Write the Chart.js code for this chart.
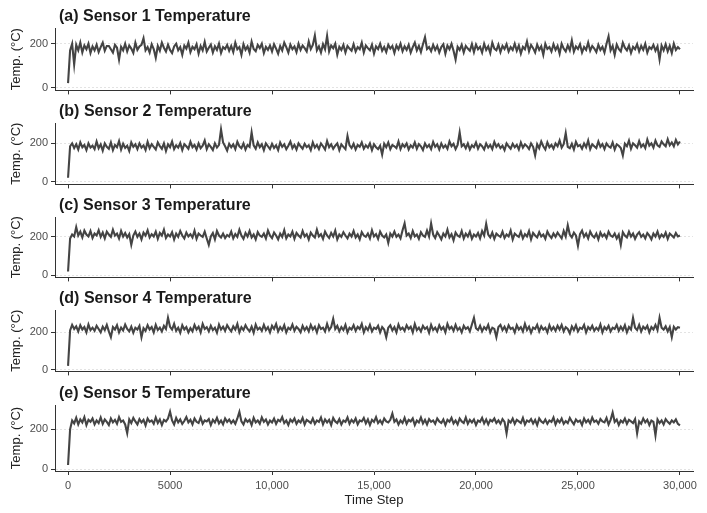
<!DOCTYPE html>
<html>
<head>
<meta charset="utf-8">
<script src="https://cdn.jsdelivr.net/npm/chart.js@4.4.1/dist/chart.umd.min.js"></script>
<style>
  html, body { margin: 0; padding: 0; background: #fff; }
  #stage { position: relative; width: 707px; height: 513px; overflow: hidden; }
</style>
</head>
<body>
<div id="stage"></div>
<script>
// Panel titles
const panelTitles = [
  '(a) Sensor 1 Temperature',
  '(b) Sensor 2 Temperature',
  '(c) Sensor 3 Temperature',
  '(d) Sensor 4 Temperature',
  '(e) Sensor 5 Temperature'
];

// Sampling grid: one reading every 100 time steps, 0 .. 30,000
const SAMPLE_STEP = 100;

// Readings (°C), 20 per row
const sensor1 = [
  20, 170, 200, 105, 195, 170, 205, 160, 192, 175, 200, 158, 188, 170, 196, 162, 185, 205, 168, 190,
  190, 175, 160, 195, 182, 128, 186, 170, 200, 165, 192, 178, 158, 205, 172, 188, 195, 225, 170, 185,
  160, 198, 176, 136, 190, 168, 205, 182, 165, 196, 172, 158, 188, 200, 170, 185, 150, 192, 178, 205,
  162, 186, 175, 198, 155, 190, 170, 208, 165, 182, 196, 160, 188, 172, 200, 158, 185, 176, 195, 168,
  190, 162, 205, 175, 185, 150, 198, 172, 188, 160, 210, 176, 166, 195, 180, 200, 158, 186, 172, 192,
  165, 198, 178, 155, 190, 170, 205, 185, 160, 196, 175, 188, 162, 200, 172, 192, 180, 165, 210, 176,
  195, 238, 170, 188, 160, 198, 175, 236, 165, 192, 180, 200, 150, 186, 172, 195, 160, 190, 178, 168,
  198, 165, 185, 175, 205, 160, 192, 180, 170, 196, 155, 188, 176, 200, 168, 185, 162, 195, 178, 190,
  158, 192, 175, 200, 166, 188, 172, 195, 160, 185, 205, 170, 190, 162, 198, 230, 176, 185, 166, 195,
  172, 190, 160, 185, 198, 155, 192, 175, 200, 168, 128, 186, 172, 195, 160, 190, 178, 168, 198, 162,
  196, 175, 186, 160, 200, 172, 188, 158, 205, 178, 170, 196, 162, 190, 176, 198, 165, 185, 172, 200,
  168, 192, 155, 186, 175, 210, 166, 195, 180, 160, 196, 172, 188, 150, 200, 176, 185, 165, 198, 172,
  190, 155, 200, 178, 165, 192, 170, 215, 164, 188, 176, 198, 160, 185, 172, 205, 168, 190, 178, 162,
  195, 172, 186, 160, 200, 234, 170, 190, 150, 196, 176, 165, 205, 182, 170, 192, 158, 186, 175, 198,
  165, 190, 172, 200, 160, 185, 176, 195, 168, 188, 128, 192, 170, 198, 165, 190, 158, 200, 172, 185,
  175
];
const sensor2 = [
  20, 185, 200, 175, 195, 168, 205, 180, 192, 165, 200, 178, 188, 170, 210, 175, 195, 162, 200, 182,
  172, 205, 165, 192, 180, 212, 168, 198, 176, 188, 160, 205, 182, 195, 170, 200, 178, 190, 165, 208,
  175, 196, 182, 168, 205, 186, 172, 200, 160, 195, 180, 210, 170, 190, 178, 202, 165, 196, 185, 172,
  208, 180, 192, 168, 200, 175, 188, 215, 170, 195, 182, 165, 200, 178, 192, 273, 205, 185, 162, 198,
  180, 195, 170, 208, 185, 175, 200, 168, 192, 182, 258, 190, 172, 205, 180, 195, 165, 200, 185, 170,
  198, 176, 190, 165, 205, 182, 195, 170, 188, 210, 175, 192, 168, 200, 185, 172, 198, 180, 190, 165,
  205, 178, 192, 170, 200, 185, 168, 212, 180, 195, 172, 188, 200, 165, 195, 182, 170, 239, 190, 176,
  198, 168, 192, 182, 205, 172, 190, 178, 200, 165, 195, 180, 170, 188, 141, 198, 180, 205, 170, 192,
  185, 175, 210, 170, 195, 182, 200, 168, 190, 178, 205, 172, 196, 185, 165, 200, 180, 192, 170, 208,
  182, 195, 168, 200, 178, 190, 172, 210, 185, 198, 170, 192, 258, 185, 196, 175, 200, 168, 190, 180,
  205, 172, 195, 185, 168, 200, 178, 192, 170, 208, 182, 196, 175, 188, 165, 200, 185, 172, 198, 180,
  192, 168, 205, 178, 195, 185, 170, 200, 182, 137, 196, 175, 210, 185, 168, 205, 180, 192, 172, 200,
  185, 215, 178, 196, 254, 182, 175, 198, 168, 208, 185, 192, 172, 200, 180, 215, 170, 195, 185, 175,
  210, 182, 196, 170, 200, 185, 178, 205, 168, 195, 188, 176, 137, 198, 185, 215, 172, 200, 190, 178,
  212, 182, 195, 175, 220, 188, 200, 178, 215, 190, 182, 210, 195, 185, 222, 190, 205, 185, 218, 195,
  210
];
const sensor3 = [
  20, 190, 210, 200, 248, 205, 225, 195, 230, 210, 200, 228, 192, 215, 205, 232, 198, 220, 190, 225,
  210, 198, 235, 205, 215, 190, 228, 200, 218, 195, 212, 157, 205, 225, 198, 215, 185, 220, 205, 232,
  195, 212, 200, 225, 188, 218, 205, 235, 192, 210, 200, 222, 185, 215, 198, 228, 205, 190, 220, 200,
  212, 195, 230, 188, 215, 205, 198, 225, 190, 157, 200, 218, 185, 228, 205, 195, 215, 192, 208, 200,
  225, 190, 212, 198, 235, 205, 188, 218, 200, 228, 195, 210, 185, 222, 205, 198, 215, 190, 230, 205,
  192, 220, 205, 185, 215, 198, 232, 190, 210, 200, 225, 188, 218, 205, 195, 228, 200, 212, 185, 220,
  205, 195, 235, 200, 212, 188, 225, 205, 192, 218, 200, 230, 185, 210, 198, 222, 205, 190, 215, 200,
  228, 195, 210, 185, 222, 205, 198, 215, 190, 232, 200, 212, 188, 225, 205, 195, 210, 167, 215, 200,
  225, 198, 210, 190, 232, 267, 205, 215, 192, 228, 200, 210, 188, 222, 205, 198, 230, 200, 267, 210,
  192, 222, 205, 185, 215, 200, 235, 195, 212, 180, 220, 205, 198, 228, 190, 215, 200, 225, 188, 210,
  200, 218, 190, 228, 205, 265, 210, 195, 220, 188, 215, 205, 198, 225, 192, 210, 200, 230, 185, 215,
  205, 198, 225, 190, 212, 200, 228, 185, 218, 205, 195, 222, 200, 210, 188, 225, 205, 192, 215, 198,
  220, 205, 190, 228, 200, 257, 210, 195, 220, 205, 152, 212, 230, 198, 215, 190, 225, 205, 195, 215,
  185, 220, 200, 212, 192, 225, 205, 198, 215, 190, 210, 157, 222, 205, 195, 225, 200, 215, 188, 210,
  222, 198, 210, 190, 218, 205, 185, 215, 200, 225, 192, 210, 198, 220, 188, 215, 205, 195, 218, 200,
  205
];
const sensor4 = [
  20, 210, 240, 218, 232, 205, 238, 215, 228, 200, 242, 212, 225, 208, 235, 218, 200, 230, 212, 240,
  205, 174, 228, 215, 238, 200, 225, 210, 242, 218, 205, 230, 198, 225, 215, 235, 174, 222, 208, 238,
  215, 228, 200, 240, 212, 225, 205, 235, 218, 278, 230, 215, 245, 208, 225, 198, 238, 215, 228, 200,
  222, 205, 240, 215, 230, 200, 245, 218, 228, 205, 235, 212, 225, 198, 242, 215, 230, 208, 238, 220,
  205, 232, 215, 245, 200, 228, 212, 238, 218, 205, 230, 198, 242, 215, 225, 208, 240, 212, 228, 200,
  235, 218, 245, 205, 228, 212, 238, 200, 225, 215, 242, 208, 230, 218, 200, 235, 212, 228, 205, 240,
  215, 230, 200, 238, 218, 225, 205, 245, 212, 228, 273, 218, 235, 205, 228, 212, 240, 200, 225, 215,
  238, 208, 230, 218, 245, 200, 228, 212, 240, 205, 225, 218, 235, 200, 228, 215, 174, 225, 238, 210,
  228, 200, 242, 215, 225, 208, 238, 218, 230, 200, 245, 212, 225, 205, 235, 218, 228, 198, 240, 212,
  225, 205, 238, 215, 228, 200, 245, 218, 230, 208, 240, 212, 225, 200, 235, 218, 228, 205, 242, 278,
  222, 212, 235, 205, 228, 215, 240, 200, 225, 218, 174, 228, 240, 212, 230, 205, 238, 218, 225, 200,
  238, 215, 228, 205, 245, 212, 230, 198, 225, 218, 240, 205, 232, 215, 225, 200, 238, 212, 228, 208,
  235, 215, 240, 205, 228, 218, 195, 232, 212, 238, 205, 225, 218, 240, 200, 228, 215, 235, 208, 225,
  212, 242, 200, 228, 215, 235, 205, 225, 218, 240, 208, 230, 212, 238, 200, 228, 215, 278, 225, 212,
  240, 205, 230, 218, 235, 200, 228, 215, 240, 212, 278, 225, 215, 232, 205, 228, 174, 230, 215, 228,
  225
];
const sensor5 = [
  20, 200, 245, 230, 258, 225, 250, 235, 262, 222, 248, 238, 255, 225, 245, 232, 260, 228, 250, 238,
  222, 255, 235, 248, 228, 262, 238, 245, 225, 181, 250, 232, 258, 240, 225, 252, 235, 248, 220, 255,
  238, 245, 228, 260, 232, 250, 222, 248, 240, 255, 290, 245, 225, 258, 235, 250, 228, 242, 262, 235,
  248, 225, 255, 238, 232, 260, 228, 245, 240, 252, 222, 248, 235, 258, 230, 245, 225, 255, 238, 250,
  232, 245, 228, 255, 288, 240, 225, 252, 238, 248, 222, 258, 235, 245, 228, 260, 238, 250, 225, 245,
  235, 255, 228, 248, 240, 262, 232, 245, 222, 250, 238, 255, 228, 245, 235, 258, 225, 248, 240, 232,
  255, 228, 245, 238, 260, 225, 250, 235, 248, 222, 258, 240, 232, 252, 225, 245, 238, 260, 228, 248,
  235, 255, 225, 245, 240, 258, 230, 250, 222, 248, 238, 262, 232, 245, 228, 255, 240, 235, 248, 280,
  238, 250, 225, 245, 232, 258, 228, 248, 240, 255, 222, 245, 235, 260, 230, 248, 225, 252, 238, 245,
  228, 255, 240, 232, 250, 222, 248, 238, 258, 230, 245, 225, 255, 240, 232, 260, 228, 248, 235, 250,
  222, 245, 238, 258, 230, 250, 225, 248, 240, 255, 232, 245, 228, 252, 238, 180, 245, 235, 255, 228,
  248, 240, 232, 258, 225, 245, 238, 252, 230, 248, 222, 255, 240, 232, 250, 228, 245, 238, 260, 225,
  248, 235, 255, 228, 242, 232, 258, 240, 225, 250, 238, 245, 222, 255, 235, 248, 230, 260, 238, 245,
  228, 252, 240, 235, 258, 225, 248, 285, 238, 250, 222, 245, 235, 255, 228, 248, 240, 232, 252, 180,
  240, 228, 255, 235, 248, 222, 245, 238, 170, 250, 232, 245, 225, 252, 238, 228, 245, 235, 250, 228,
  220
];
const sensors = [sensor1, sensor2, sensor3, sensor4, sensor5];

// Axis ticks and ranges
const xTickValues = [0, 5000, 10000, 15000, 20000, 25000, 30000];
const xTickLabels = ['0', '5000', '10,000', '15,000', '20,000', '25,000', '30,000'];
const yTickValues = [0, 200];
const yMins = [-13, -15, -10, -10, -10];
const yMaxs = [272, 307, 300, 320, 323];

// Layout (pixels)
const W = 707, H = 513;
const PLOT_LEFT = 55, PLOT_RIGHT = 693;
const TITLE_SPACE = 28;
const plotTops = [28, 123, 217, 310, 405];
const plotBottoms = [95, 189, 282, 376, 471];

const FONT = '"Liberation Sans", Arial, Helvetica, sans-serif';
const AXIS_COLOR = '#333333';
const TEXT_COLOR = '#4d4d4d';

// Draws the bold panel heading just above the plot area
const panelTitle = {
  id: 'panelTitle',
  afterDraw(chart, args, opts) {
    const { ctx, chartArea } = chart;
    ctx.save();
    ctx.font = 'bold 16px ' + FONT;
    ctx.fillStyle = '#1a1a1a';
    ctx.textBaseline = 'middle';
    ctx.textAlign = 'left';
    ctx.fillText(opts.text, chartArea.left + 4, chartArea.top - 11);
    ctx.restore();
  }
};

const timeSteps = sensor1.map((_, i) => i * SAMPLE_STEP);

sensors.forEach((values, i) => {
  const isLast = i === sensors.length - 1;
  const top = plotTops[i] - TITLE_SPACE;
  const axisHeight = isLast ? H - plotBottoms[i] : 5;
  const height = plotBottoms[i] - top + axisHeight;

  const canvas = document.createElement('canvas');
  canvas.width = W;
  canvas.height = height;
  canvas.style.cssText = `position:absolute;left:0;top:${top}px;width:${W}px;height:${height}px;`;
  document.getElementById('stage').appendChild(canvas);

  new Chart(canvas, {
    type: 'line',
    data: {
      datasets: [{
        data: values.map((v, k) => ({ x: timeSteps[k], y: v })),
        borderColor: '#444444',
        borderWidth: 2.1,
        pointRadius: 0,
        tension: 0,
        fill: false
      }]
    },
    options: {
      responsive: false,
      animation: false,
      events: [],
      layout: { padding: { top: TITLE_SPACE, right: W - PLOT_RIGHT, bottom: 0, left: 0 } },
      plugins: {
        legend: { display: false },
        tooltip: { enabled: false },
        panelTitle: { text: panelTitles[i] }
      },
      scales: {
        x: {
          type: 'linear',
          min: -640,
          max: 30640,
          afterBuildTicks: s => { s.ticks = xTickValues.map(v => ({ value: v })); },
          afterFit: s => { s.height = axisHeight; },
          ticks: {
            display: isLast,
            autoSkip: false,
            maxRotation: 0,
            padding: 4,
            color: TEXT_COLOR,
            font: { family: FONT, size: 11 },
            callback: (v, idx) => xTickLabels[idx]
          },
          grid: {
            drawOnChartArea: false,
            drawTicks: true,
            tickLength: 4,
            tickColor: AXIS_COLOR,
            tickWidth: 1
          },
          border: { display: true, color: AXIS_COLOR, width: 1 },
          title: {
            display: isLast,
            text: 'Time Step',
            color: '#222222',
            font: { family: FONT, size: 13 },
            padding: { top: 0, bottom: 5 }
          }
        },
        y: {
          min: yMins[i],
          max: yMaxs[i],
          afterBuildTicks: s => { s.ticks = yTickValues.map(v => ({ value: v })); },
          afterFit: s => { s.width = PLOT_LEFT; },
          ticks: {
            padding: 3,
            color: TEXT_COLOR,
            font: { family: FONT, size: 11 }
          },
          grid: {
            color: '#e3e3e3',
            lineWidth: 1,
            drawTicks: true,
            tickLength: 4,
            tickColor: AXIS_COLOR,
            tickWidth: 1
          },
          border: { display: true, color: AXIS_COLOR, width: 1, dash: [2, 2] },
          title: {
            display: true,
            text: 'Temp. (°C)',
            color: '#222222',
            font: { family: FONT, size: 13 },
            padding: { top: 9, bottom: 0 }
          }
        }
      }
    },
    plugins: [panelTitle]
  });
});
</script>
</body>
</html>
